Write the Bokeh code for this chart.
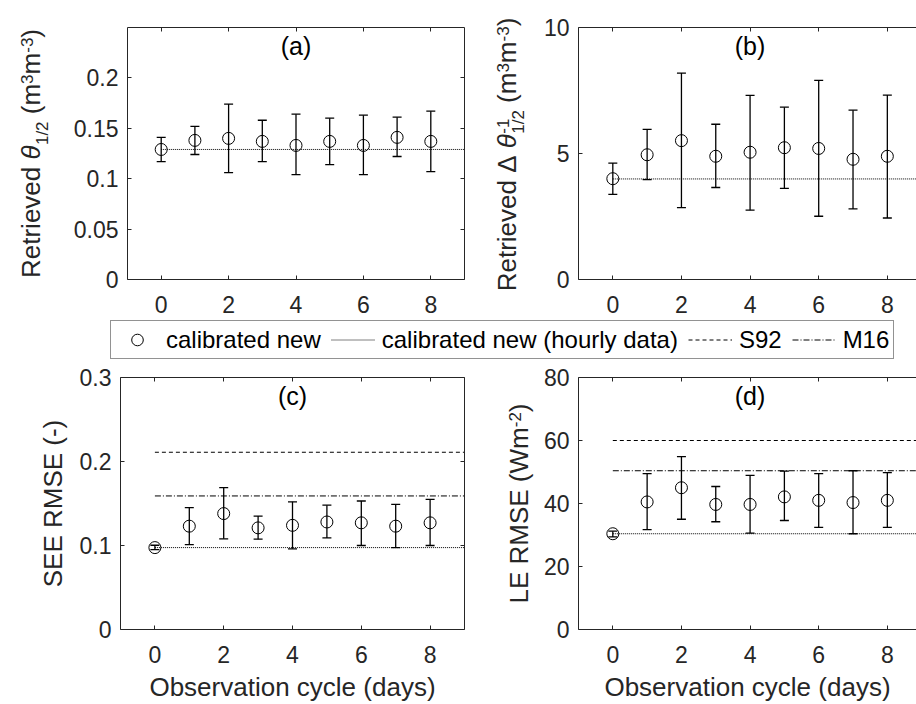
import math
from bokeh.plotting import figure
from bokeh.models import (LinearAxis, FixedTicker, NumeralTickFormatter, Label, Whisker,
                          TeeHead, ColumnDataSource, Range1d, Legend, LegendItem,
                          CustomJSTickFormatter)
from bokeh.core.properties import value
from bokeh.layouts import column, row
from bokeh.embed import file_html
from bokeh.resources import INLINE

# ---------------- data ----------------
days = [0, 1, 2, 3, 4, 5, 6, 7, 8]
x_ticks = [0, 2, 4, 6, 8]

theta_mean = [0.129, 0.138, 0.140, 0.137, 0.133, 0.137, 0.133, 0.141, 0.137]
theta_upper = [0.141, 0.152, 0.174, 0.158, 0.164, 0.160, 0.163, 0.161, 0.167]
theta_lower = [0.117, 0.124, 0.106, 0.117, 0.104, 0.114, 0.104, 0.122, 0.107]
theta_hourly = 0.129
theta_ticks = [0, 0.05, 0.1, 0.15, 0.2]

dtheta_mean = [4.00, 4.95, 5.51, 4.89, 5.05, 5.23, 5.20, 4.77, 4.89]
dtheta_upper = [4.62, 5.96, 8.19, 6.16, 7.31, 6.84, 7.90, 6.72, 7.32]
dtheta_lower = [3.38, 3.96, 2.85, 3.65, 2.75, 3.62, 2.51, 2.80, 2.44]
dtheta_hourly = 3.99
dtheta_ticks = [0, 5, 10]

see_mean = [0.0975, 0.123, 0.138, 0.121, 0.124, 0.128, 0.127, 0.123, 0.127]
see_upper = [0.1003, 0.145, 0.169, 0.135, 0.152, 0.148, 0.153, 0.149, 0.155]
see_lower = [0.0951, 0.101, 0.108, 0.1075, 0.096, 0.109, 0.100, 0.0975, 0.100]
see_hourly = 0.0975
see_s92 = 0.211
see_m16 = 0.159
see_ticks = [0, 0.1, 0.2, 0.3]

le_mean = [30.4, 40.5, 45.0, 39.7, 39.7, 42.1, 41.0, 40.3, 41.0]
le_upper = [31.2, 49.5, 54.9, 45.4, 48.9, 50.3, 49.5, 50.4, 49.8]
le_lower = [29.4, 31.7, 35.0, 34.2, 30.6, 34.6, 32.4, 30.4, 32.4]
le_hourly = 30.4
le_s92 = 60.0
le_m16 = 50.4
le_ticks = [0, 20, 40, 60, 80]

legend_labels = ["calibrated new", "calibrated new (hourly data)", "S92", "M16"]
x_label = "Observation cycle (days)"

# ---------------- style ----------------
FONT = "Liberation Sans"
TXT = "#262626"
TICK_FS = "23px"
LAB_FS = 26
SMALL_FS = 17
DOT = "1 1"
DASH = "4 3"
DASHDOT = "6 2 1 2"
BASE_K = 0.47   # distance from text anchor to its baseline, in em

CW = {' ': 278, '(': 333, ')': 333, '-': 333, '/': 278, '.': 278,
      'R': 722, 'E': 667, 'S': 667, 'M': 833, 'L': 556, 'W': 944,
      'e': 556, 't': 278, 'r': 333, 'i': 222, 'v': 500, 'd': 556, 'm': 833,
      'θ': 556, 'Δ': 668}


def text_w(s, size):
    return sum(CW.get(ch, 556) for ch in s) * size / 1000.0


def style_axis(ax, show_labels=True):
    ax.axis_line_color = TXT
    ax.axis_line_width = 1
    ax.major_tick_line_color = TXT
    ax.major_tick_in = 4
    ax.major_tick_out = 0
    ax.minor_tick_line_color = None
    if show_labels:
        ax.major_label_text_font = FONT
        ax.major_label_text_font_size = TICK_FS
        ax.major_label_text_color = TXT
    else:
        ax.major_label_text_font_size = "0px"
        ax.major_label_standoff = 0
        ax.formatter = CustomJSTickFormatter(code="return ''")


def make_fig(width, height, left, right, top, bottom, x_end, y_end, yticks,
             right_axis, xlabel=None):
    p = figure(width=width, height=height, x_range=Range1d(-1, x_end),
               y_range=Range1d(0, y_end), output_backend="svg",
               toolbar_location=None, x_axis_type=None, y_axis_type=None,
               min_border_left=left, min_border_right=right,
               min_border_top=top, min_border_bottom=bottom)
    p.outline_line_color = None

    xb = LinearAxis(ticker=FixedTicker(ticks=x_ticks))
    style_axis(xb)
    xb.major_label_standoff = 16
    if xlabel:
        xb.axis_label = xlabel
        xb.axis_label_text_font = FONT
        xb.axis_label_text_font_size = f"{LAB_FS}px"
        xb.axis_label_text_font_style = "normal"
        xb.axis_label_text_color = TXT
        xb.axis_label_standoff = 6
    p.add_layout(xb, "below")

    xt = LinearAxis(ticker=FixedTicker(ticks=x_ticks))
    style_axis(xt, False)
    p.add_layout(xt, "above")

    yl = LinearAxis(ticker=FixedTicker(ticks=yticks),
                    formatter=NumeralTickFormatter(format="0.[00]"))
    style_axis(yl)
    yl.major_label_standoff = 9
    p.add_layout(yl, "left")

    if right_axis:
        yr = LinearAxis(ticker=FixedTicker(ticks=yticks))
        style_axis(yr, False)
        p.add_layout(yr, "right")
    return p


def draw_series(p, mean, upper, lower, hourly, x_end, s92=None, m16=None):
    if s92 is not None:
        p.line([days[0], x_end], [s92, s92], line_color="black", line_width=1,
               line_dash=DASH)
    if m16 is not None:
        p.line([days[0], x_end], [m16, m16], line_color="black", line_width=1,
               line_dash=DASHDOT)
    p.line([days[0], x_end], [hourly, hourly], line_color="black", line_width=1,
           line_dash=DOT)
    src = ColumnDataSource(dict(x=days, mean=mean, upper=upper, lower=lower))
    w = Whisker(source=src, base="x", upper="upper", lower="lower",
                dimension="height", line_color="black", line_width=1.3,
                upper_head=TeeHead(size=9, line_color="black", line_width=1.3),
                lower_head=TeeHead(size=9, line_color="black", line_width=1.3))
    p.add_layout(w)
    p.scatter("x", "mean", source=src, marker="circle", size=12,
              fill_color=None, line_color="black", line_width=1)


def panel_label(p, text, y_end):
    p.add_layout(Label(x=4, y=y_end, text=text, text_align="center",
                       text_baseline="top", y_offset=-4, text_font=FONT,
                       text_font_size="25px", text_color="black"))


def label_fig(width, height, center_from_top, baseline_x, groups):
    """A strip holding a rotated, composed axis title (reads upwards).
    Its frame is the whole strip (not aligned with neighbours); its
    ranges are in pixels of the strip."""
    p = figure(width=width, height=height, x_range=Range1d(0, width),
               y_range=Range1d(0, height), x_axis_type=None, y_axis_type=None,
               toolbar_location=None, output_backend="svg", min_border=0)
    p.frame_align = False
    p.outline_line_color = None
    adv = [max(text_w(t, sz) for t, sz, sh, st in g) for g in groups]
    cum = (height - center_from_top) - sum(adv) / 2.0
    for g, a in zip(groups, adv):
        for t, sz, sh, st in g:
            lead = len(t) - len(t.lstrip(' '))
            p.text(x=[baseline_x - sh - BASE_K * sz],
                   y=[cum + text_w(' ' * lead, sz)],
                   text=[t.strip(' ')], angle=math.pi / 2, text_align="left",
                   text_baseline="alphabetic", text_font=value(FONT),
                   text_font_size=value(f"{sz}px"), text_font_style=st,
                   text_color=TXT)
        cum += a
    return p


F, s = LAB_FS, SMALL_FS
SUP, SUB = 9, -7

# ---------------- figures ----------------
XA_END = 9.0
XB_END = 8.85
TOP_H, LEG_H, BOT_H = 316, 46, 342
LW = 70  # width of the axis-title strips

pa = make_fig(400, TOP_H, 50, 6, 27, 37, XA_END, 0.25, theta_ticks, True)
draw_series(pa, theta_mean, theta_upper, theta_lower, theta_hourly, XA_END)
panel_label(pa, "(a)", 0.25)
la = label_fig(LW, TOP_H, 153, 43,
               [[("Retrieved ", F, 0, "normal")], [("θ", F, 0, "italic")],
                [("1/2", s, SUB, "normal")], [(" (m", F, 0, "normal")],
                [("3", s, SUP, "normal")], [("m", F, 0, "normal")],
                [("-3", s, SUP, "normal")], [(")", F, 0, "normal")]])

pb = make_fig(376, TOP_H, 37, 0, 27, 37, XB_END, 10, dtheta_ticks, False)
draw_series(pb, dtheta_mean, dtheta_upper, dtheta_lower, dtheta_hourly, XB_END)
panel_label(pb, "(b)", 10)
lb = label_fig(LW, TOP_H, 154, 49,
               [[("Retrieved Δ ", F, 0, "normal")], [("θ", F, 0, "italic")],
                [("-1", s, SUP, "normal"), ("1/2", s, SUB, "normal")],
                [(" (m", F, 0, "normal")], [("3", s, SUP, "normal")],
                [("m", F, 0, "normal")], [("-3", s, SUP, "normal")],
                [(")", F, 0, "normal")]])

pc = make_fig(400, BOT_H, 50, 6, 15, 75, XA_END, 0.3, see_ticks, True, x_label)
draw_series(pc, see_mean, see_upper, see_lower, see_hourly, XA_END, see_s92, see_m16)
panel_label(pc, "(c)", 0.3)
lc = label_fig(LW, BOT_H, 141, 65, [[("SEE RMSE (-)", F, 0, "normal")]])

pd = make_fig(376, BOT_H, 37, 0, 15, 75, XB_END, 80, le_ticks, False, x_label)
draw_series(pd, le_mean, le_upper, le_lower, le_hourly, XB_END, le_s92, le_m16)
panel_label(pd, "(d)", 80)
ld = label_fig(LW, BOT_H, 141, 61,
               [[("LE RMSE (Wm", F, 0, "normal")], [("-2", s, SUP, "normal")],
                [(")", F, 0, "normal")]])

# ---------------- legend strip ----------------
lf = figure(width=916, height=LEG_H, x_range=Range1d(100, 101), y_range=Range1d(100, 101),
            x_axis_type=None, y_axis_type=None, toolbar_location=None,
            output_backend="svg", min_border=0)
lf.frame_align = False
lf.outline_line_color = None
r1 = lf.scatter(x=days, y=le_mean, marker="circle", size=12, fill_color=None,
                line_color="black")
r2 = lf.line(x=days, y=le_mean, line_color="black", line_dash=DOT)
r3 = lf.line(x=days, y=le_mean, line_color="black", line_dash=DASH)
r4 = lf.line(x=days, y=le_mean, line_color="black", line_dash=DASHDOT)
leg = Legend(items=[LegendItem(label=legend_labels[0], renderers=[r1]),
                    LegendItem(label=legend_labels[1], renderers=[r2]),
                    LegendItem(label=legend_labels[2], renderers=[r3]),
                    LegendItem(label=legend_labels[3], renderers=[r4])],
             orientation="horizontal", location=(110, 3),
             glyph_width=44, glyph_height=29, label_standoff=7, spacing=10,
             padding=4, margin=0, border_line_color=TXT, border_line_width=1,
             label_text_font=FONT, label_text_font_size="24px",
             label_text_color="black", background_fill_color="white")
lf.add_layout(leg)

layout = column(row(la, pa, lb, pb), lf, row(lc, pc, ld, pd))
open("out.html", "w").write(file_html(layout, INLINE))
